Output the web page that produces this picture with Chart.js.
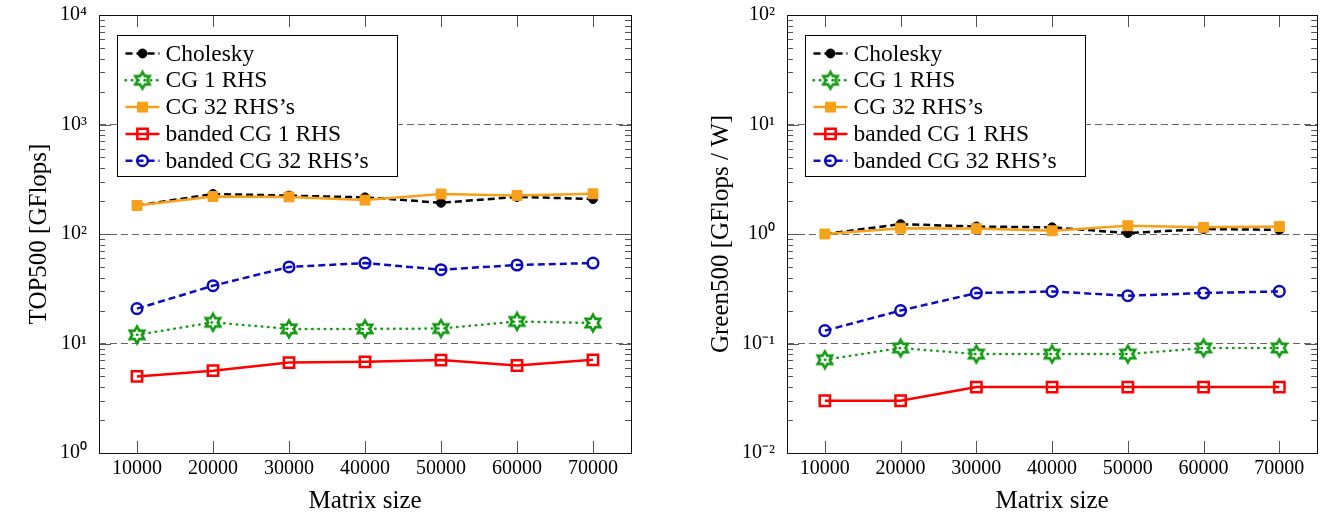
<!DOCTYPE html>
<html>
<head>
<meta charset="utf-8">
<script src="https://cdn.jsdelivr.net/npm/chart.js@4.4.0/dist/chart.umd.min.js"></script>
<style>
	body { margin: 0; background: #fff; width: 1327px; height: 519px; position: relative; overflow: hidden; }
	canvas { position: absolute; top: 0; }
	#top500 { left: 0; }
	#green500 { left: 663px; }
</style>
</head>
<body>
<canvas id="top500" width="663" height="519"></canvas>
<canvas id="green500" width="664" height="519"></canvas>
<script>
// x categories (matrix size)
var matrixSizes = [10000, 20000, 30000, 40000, 50000, 60000, 70000];
var seriesNames = ["Cholesky", "CG 1 RHS", "CG 32 RHS\u2019s", "banded CG 1 RHS", "banded CG 32 RHS\u2019s"];

// left chart, TOP500 [GFlops]
var top500Cholesky = [182, 232, 224, 216, 193, 218, 209];
var top500CG1 = [12.0, 15.6, 13.6, 13.6, 13.7, 15.9, 15.4];
var top500CG32 = [182, 220, 218, 204, 232, 225, 233];
var top500Banded1 = [5.0, 5.65, 6.7, 6.8, 7.05, 6.3, 7.1];
var top500Banded32 = [20.8, 33.7, 50, 54.3, 47.2, 52.1, 54.3];
var top500Ticks = [1, 10, 100, 1000, 10000];

// right chart, Green500 [GFlops / W]
var green500Cholesky = [1.0, 1.23, 1.17, 1.15, 1.02, 1.11, 1.09];
var green500CG1 = [0.071, 0.091, 0.080, 0.080, 0.080, 0.091, 0.091];
var green500CG32 = [1.0, 1.13, 1.12, 1.07, 1.19, 1.15, 1.17];
var green500Banded1 = [0.030, 0.030, 0.040, 0.040, 0.040, 0.040, 0.040];
var green500Banded32 = [0.131, 0.200, 0.289, 0.299, 0.273, 0.289, 0.299];
var green500Ticks = [0.01, 0.1, 1, 10, 100];

var serif = "'Liberation Serif', 'Times New Roman', serif";

// hexagram marker for the CG 1 RHS series
function makeStar() {
	var c = document.createElement("canvas");
	c.width = 22;
	c.height = 22;
	var g = c.getContext("2d");
	var R = 8.3, r = R / Math.sqrt(3);
	g.beginPath();
	for (var i = 0; i < 12; i++) {
		var ang = -Math.PI / 2 + i * Math.PI / 6;
		var rr = (i % 2 == 0) ? R : r;
		var px = 11 + rr * Math.cos(ang), py = 11 + rr * Math.sin(ang);
		if (i == 0) g.moveTo(px, py); else g.lineTo(px, py);
	}
	g.closePath();
	g.lineWidth = 2.6;
	g.strokeStyle = "#159a15";
	g.lineJoin = "miter";
	g.stroke();
	return c;
}
var starImg = makeStar();

var styles = [
	{ color: "#000000", dash: [7, 4], cap: "butt", point: "circle", radius: 4.5, fill: "#000000", bw: 1 },
	{ color: "#159a15", dash: [0.5, 5.8], cap: "round", point: starImg, radius: 8, fill: "rgba(0,0,0,0)", bw: 0 },
	{ color: "#f7a01a", dash: [], cap: "butt", point: "rect", radius: 7, fill: "#f7a01a", bw: 1 },
	{ color: "#ff0000", dash: [], cap: "butt", point: "rect", radius: 7.3, fill: "rgba(0,0,0,0)", bw: 2.5 },
	{ color: "#0c0cbe", dash: [7, 4], cap: "butt", point: "circle", radius: 5.3, fill: "rgba(0,0,0,0)", bw: 2.5 }
];

function supExp(v) {
	var map = { "-": "\u207B", "0": "\u2070", "1": "\u00B9", "2": "\u00B2", "3": "\u00B3", "4": "\u2074" };
	var e = String(Math.round(Math.log10(v)));
	var s = "";
	for (var i = 0; i < e.length; i++) s += map[e[i]];
	return "10" + s;
}

// frame and inward ticks (major + log minor)
var frameTicks = {
	id: "frameTicks",
	beforeDatasetsDraw: function(chart) {
		var ctx = chart.ctx, a = chart.chartArea, xs = chart.scales.x, ys = chart.scales.y;
		ctx.save();
		ctx.lineWidth = 1;
		ctx.strokeStyle = "#555";
		ctx.beginPath();
		matrixSizes.forEach(function(v) {
			var px = Math.round(xs.getPixelForValue(v)) + 0.5;
			ctx.moveTo(px, a.bottom); ctx.lineTo(px, a.bottom - 12);
			ctx.moveTo(px, a.top); ctx.lineTo(px, a.top + 12);
		});
		var d0 = Math.round(Math.log10(ys.min)), d1 = Math.round(Math.log10(ys.max));
		for (var d = d0; d <= d1; d++) {
			for (var k = 1; k <= 9; k++) {
				var v = k * Math.pow(10, d);
				if (v > ys.max * 1.0001) break;
				var py = Math.round(ys.getPixelForValue(v)) + 0.5;
				var len = (k == 1) ? 12 : 6;
				ctx.moveTo(a.left, py); ctx.lineTo(a.left + len, py);
				ctx.moveTo(a.right, py); ctx.lineTo(a.right - len, py);
			}
		}
		ctx.stroke();
		ctx.strokeStyle = "#111";
		ctx.strokeRect(Math.round(a.left) + 0.5, Math.round(a.top) + 0.5, Math.round(a.right - a.left), Math.round(a.bottom - a.top));
		ctx.restore();
	}
};

// boxed legend inside the plot area
var boxLegend = {
	id: "boxLegend",
	afterDatasetsDraw: function(chart) {
		var ctx = chart.ctx, a = chart.chartArea;
		var bx = Math.round(a.left + 18) + 0.5, by = Math.round(a.top + 20) + 0.5;
		var bw = 280, bh = 141;
		ctx.save();
		ctx.fillStyle = "#fff";
		ctx.fillRect(bx, by, bw, bh);
		ctx.lineWidth = 1;
		ctx.strokeStyle = "#000";
		ctx.strokeRect(bx, by, bw, bh);
		for (var i = 0; i < seriesNames.length; i++) {
			var s = styles[i];
			var cy = by + 18 + i * 26.8;
			ctx.save();
			ctx.strokeStyle = s.color;
			ctx.lineWidth = 2.5;
			ctx.lineCap = s.cap;
			ctx.setLineDash(s.dash);
			ctx.beginPath();
			ctx.moveTo(bx + 8, cy);
			ctx.lineTo(bx + 42, cy);
			ctx.stroke();
			ctx.setLineDash([]);
			ctx.fillStyle = s.fill;
			ctx.lineWidth = s.bw;
			Chart.helpers.drawPoint(ctx, { pointStyle: s.point, radius: s.radius, rotation: 0, borderWidth: s.bw }, bx + 25, cy);
			ctx.restore();
			ctx.fillStyle = "#000";
			ctx.font = "23.5px " + serif;
			ctx.textBaseline = "middle";
			ctx.textAlign = "left";
			ctx.fillText(seriesNames[i], bx + 48, cy + 1);
		}
		ctx.restore();
	}
};

function makeChart(canvasId, yTitle, yTicks, seriesValues, yWidth, padRight, titlePad) {
	var yMin = yTicks[0], yMax = yTicks[yTicks.length - 1];
	var datasets = seriesValues.map(function(vals, i) {
		var s = styles[i];
		return {
			label: seriesNames[i],
			data: matrixSizes.map(function(x, j) { return { x: x, y: vals[j] }; }),
			borderColor: s.color,
			borderWidth: 2.5,
			borderDash: s.dash,
			borderCapStyle: s.cap,
			pointStyle: s.point,
			pointRadius: s.radius,
			pointBorderWidth: s.bw,
			pointBackgroundColor: s.fill,
			pointBorderColor: s.color,
			fill: false,
			tension: 0,
			order: seriesValues.length - i
		};
	});

	new Chart(document.getElementById(canvasId).getContext("2d"), {
		type: "line",
		data: { datasets: datasets },
		options: {
			responsive: false,
			animation: false,
			devicePixelRatio: 1,
			layout: { padding: { top: 15, right: padRight, left: 0, bottom: 0 } },
			plugins: { legend: { display: false }, tooltip: { enabled: false } },
			scales: {
				x: {
					type: "linear",
					min: 5000,
					max: 75000,
					afterBuildTicks: function(scale) {
						scale.ticks = matrixSizes.map(function(v) { return { value: v }; });
					},
					afterFit: function(scale) {
						scale.height = 66;
						scale.paddingLeft = 0;
						scale.paddingRight = 0;
					},
					grid: { display: false, drawTicks: false },
					border: { display: false },
					ticks: {
						maxRotation: 0,
						autoSkip: false,
						padding: 4,
						color: "#000",
						font: { family: serif, size: 20 },
						callback: function(v) { return String(v); }
					},
					title: {
						display: true,
						text: "Matrix size",
						color: "#000",
						font: { family: serif, size: 25 },
						padding: { top: 0, bottom: 3 }
					}
				},
				y: {
					type: "logarithmic",
					min: yMin,
					max: yMax,
					afterBuildTicks: function(scale) {
						scale.ticks = yTicks.map(function(v) { return { value: v }; });
					},
					afterFit: function(scale) {
						scale.width = yWidth;
						scale.paddingTop = 0;
						scale.paddingBottom = 0;
					},
					grid: {
						drawTicks: false,
						lineWidth: 1,
						color: function(c) {
							if (!c.tick) return "rgba(0,0,0,0)";
							var v = c.tick.value;
							return (v <= yMin * 1.0001 || v >= yMax * 0.9999) ? "rgba(0,0,0,0)" : "#666";
						}
					},
					border: { display: false, dash: [7, 4] },
					ticks: {
						padding: 12,
						color: "#000",
						font: { family: serif, size: 20 },
						callback: function(v) { return supExp(v); }
					},
					title: {
						display: true,
						text: yTitle,
						color: "#000",
						font: { family: serif, size: 25 },
						padding: { top: titlePad, bottom: 0 }
					}
				}
			}
		},
		plugins: [frameTicks, boxLegend]
	});
}

makeChart("top500", "TOP500 [GFlops]", top500Ticks,
	[top500Cholesky, top500CG1, top500CG32, top500Banded1, top500Banded32], 99, 32, 24);
makeChart("green500", "Green500 [GFlops / W]", green500Ticks,
	[green500Cholesky, green500CG1, green500CG32, green500Banded1, green500Banded32], 124, 8, 43);
</script>
</body>
</html>
